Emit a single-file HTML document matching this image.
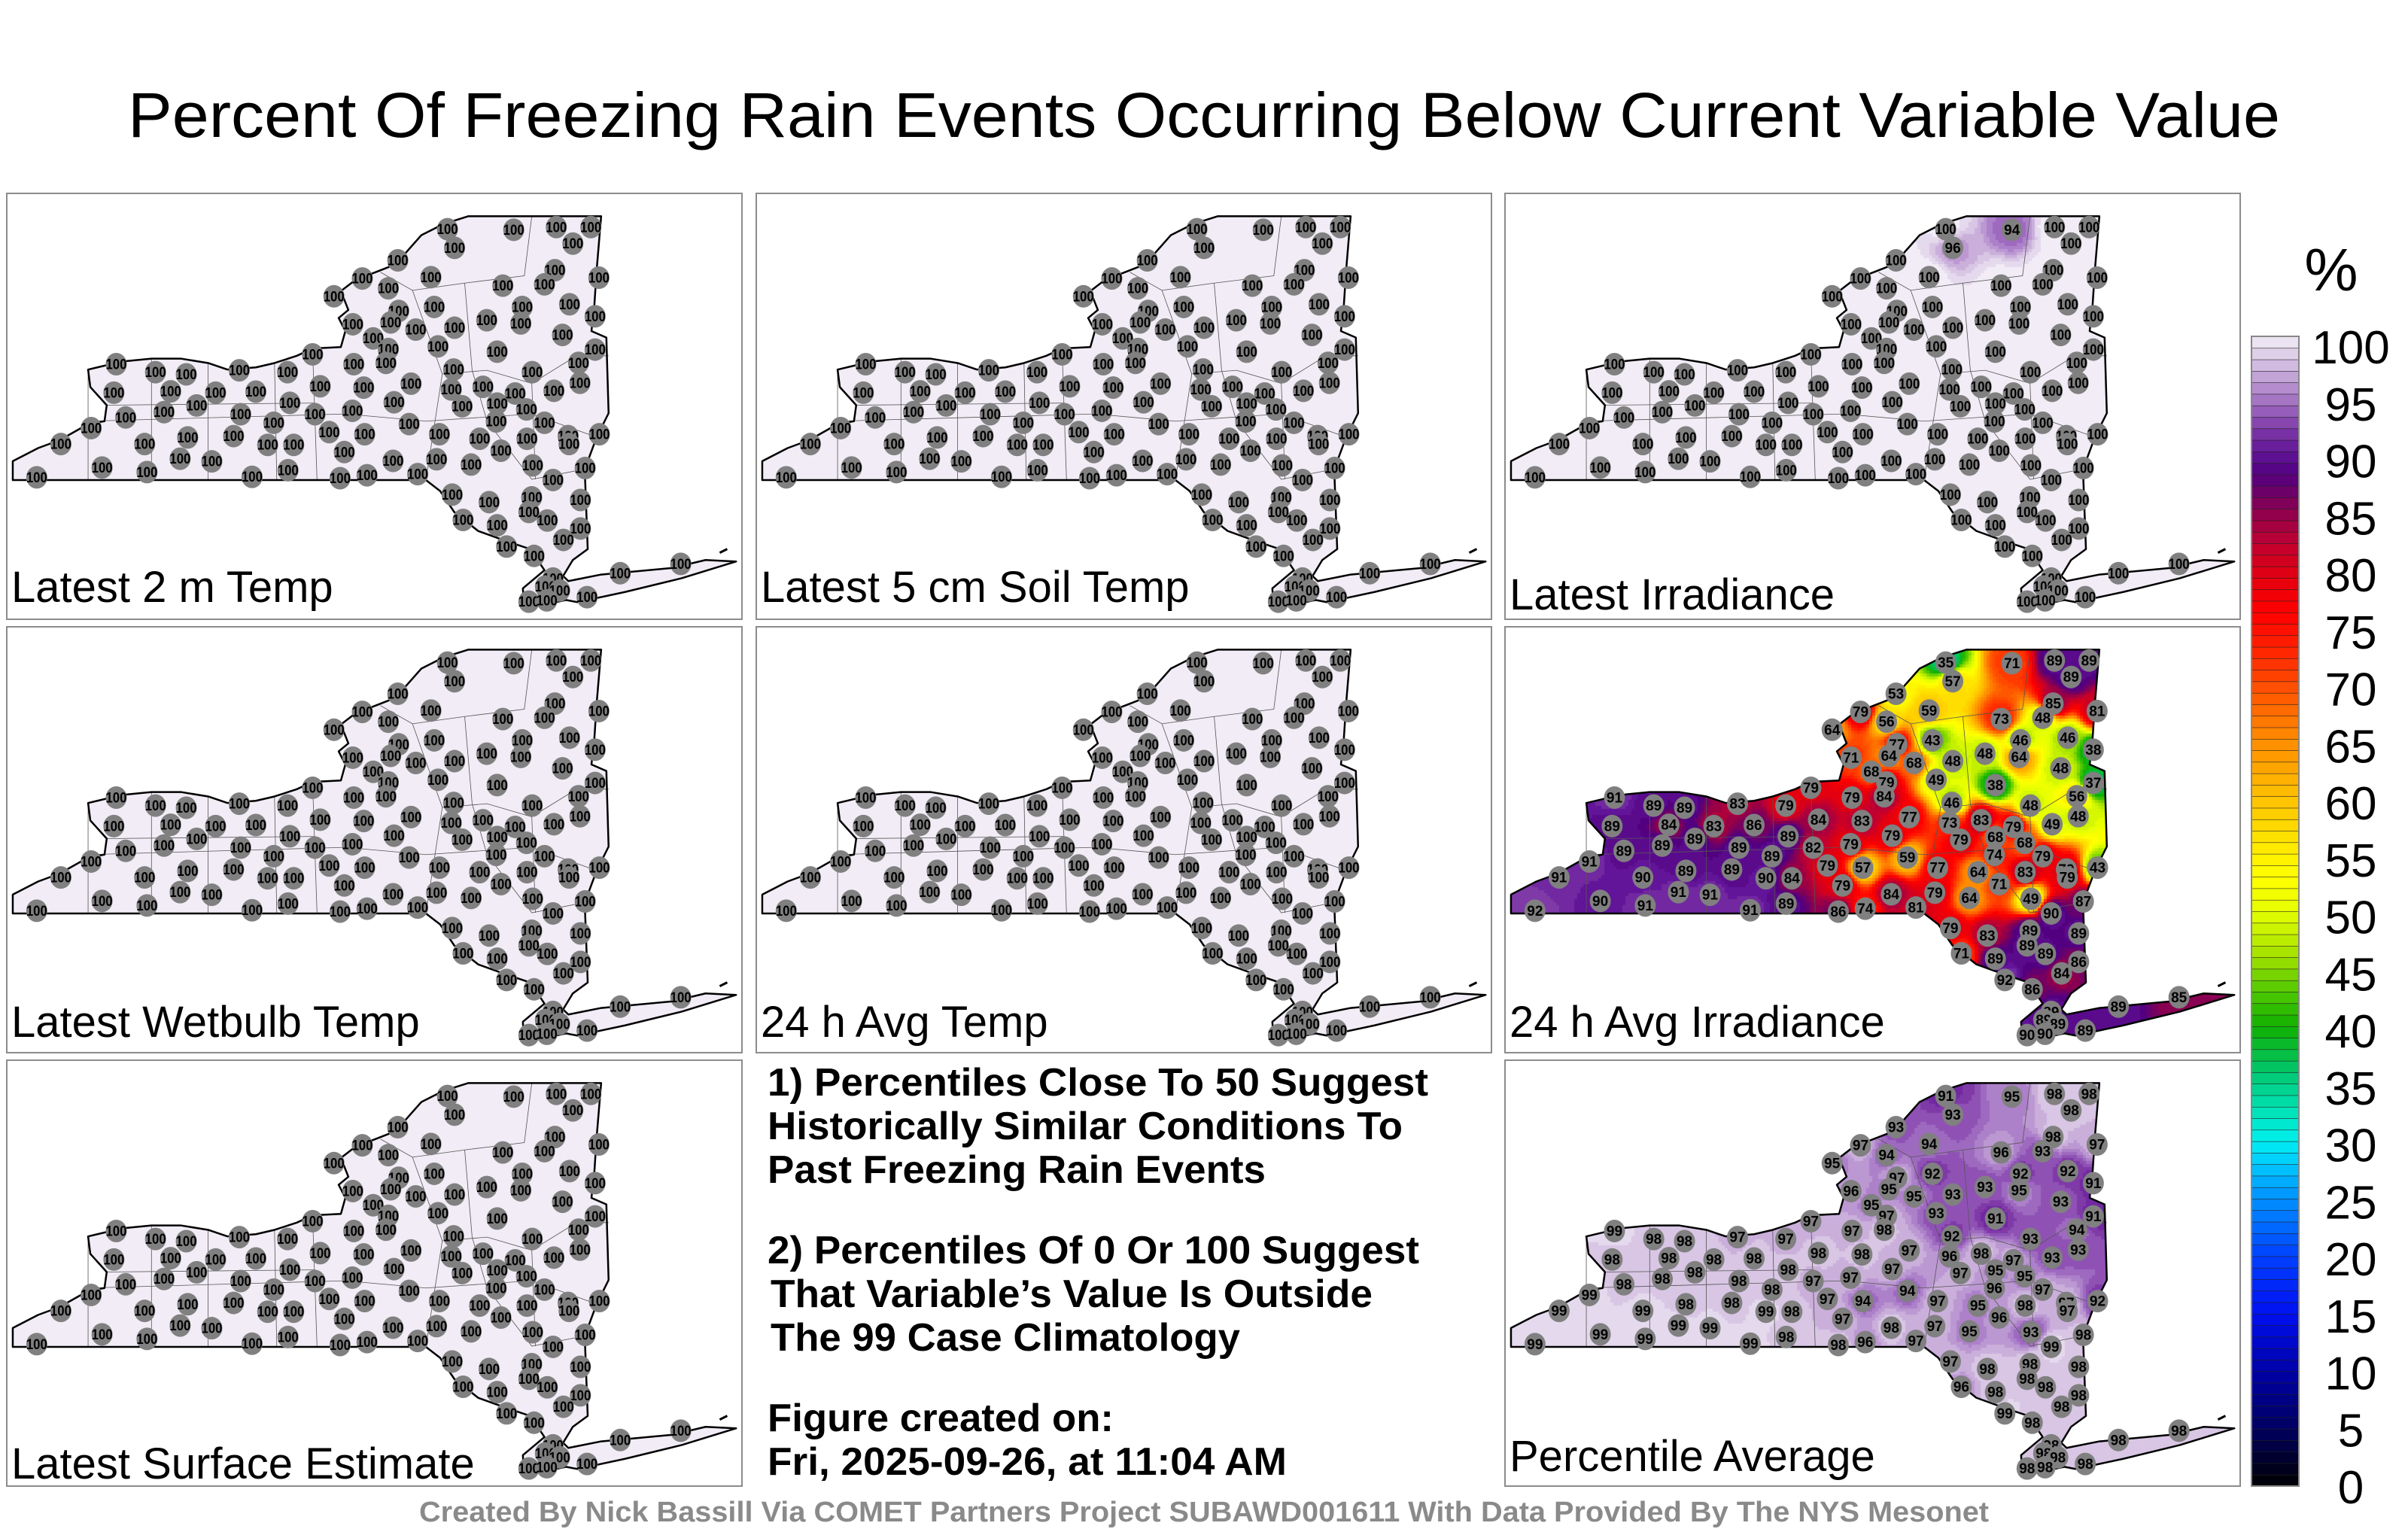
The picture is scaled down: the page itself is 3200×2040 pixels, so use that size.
<!DOCTYPE html>
<html><head><meta charset="utf-8">
<style>
html,body{margin:0;padding:0;background:#fff;}
#root{position:relative;width:3200px;height:2040px;overflow:hidden;background:#fff;font-family:"Liberation Sans",sans-serif;}
canvas{position:absolute;}
svg{position:absolute;left:0;top:0;}
</style></head>
<body>
<div id="root">
<svg id="svg" width="3200" height="2040" viewBox="0 0 3200 2040" xmlns="http://www.w3.org/2000/svg">
<text x="1600" y="182" font-size="84" text-anchor="middle" textLength="2860" lengthAdjust="spacingAndGlyphs" font-family="Liberation Sans, sans-serif">Percent Of Freezing Rain Events Occurring Below Current Variable Value</text>
<g font-family="Liberation Sans, sans-serif" font-weight="bold" font-size="52">
<text x="1020" y="1456" textLength="878" lengthAdjust="spacingAndGlyphs">1) Percentiles Close To 50 Suggest</text>
<text x="1020" y="1514" textLength="844" lengthAdjust="spacingAndGlyphs">Historically Similar Conditions To</text>
<text x="1020" y="1572" textLength="662" lengthAdjust="spacingAndGlyphs">Past Freezing Rain Events</text>
<text x="1020" y="1679" textLength="866" lengthAdjust="spacingAndGlyphs">2) Percentiles Of 0 Or 100 Suggest</text>
<text x="1024" y="1737" textLength="800" lengthAdjust="spacingAndGlyphs">That Variable’s Value Is Outside</text>
<text x="1024" y="1795" textLength="624" lengthAdjust="spacingAndGlyphs">The 99 Case Climatology</text>
<text x="1020" y="1902" textLength="460" lengthAdjust="spacingAndGlyphs">Figure created on:</text>
<text x="1020" y="1960" textLength="690" lengthAdjust="spacingAndGlyphs">Fri, 2025-09-26, at 11:04 AM</text>
</g>
<text x="1600" y="2022" font-size="38" font-weight="bold" fill="#8a8a8a" text-anchor="middle" textLength="2086" lengthAdjust="spacingAndGlyphs" font-family="Liberation Sans, sans-serif">Created By Nick Bassill Via COMET Partners Project SUBAWD001611 With Data Provided By The NYS Mesonet</text>
<text x="3098" y="386" font-size="80" text-anchor="middle" font-family="Liberation Sans, sans-serif">%</text>
<g id="cbar"></g>
<g id="panels"></g>
</svg>
</div>
<script>
// ---------- data ----------
const stationZoomX = [925,1065,1155,1228,1190,940,820,1152,1245,890,1042,1130,745,800,685,897,1083,1183,1237,822,805,725,858,940,1008,1080,1168,768,800,905,1030,1237,640,727,795,1202,938,1104,225,308,373,485,587,656,748,848,933,1000,1068,1150,1205,220,340,435,520,592,395,326,488,645,724,812,956,1030,1092,245,172,558,844,1028,1130,675,750,908,993,1093,1180,1182,1246,108,285,376,473,545,600,707,1038,360,427,810,902,975,1105,1216,195,290,588,57,512,698,755,862,1148,935,1013,1103,1206,1097,1136,958,1030,1206,1170,1050,1108,1418,1290,1148,1132,1162,1220,1097,1135];
const stationZoomY = [98,100,90,90,152,168,215,252,280,278,310,305,283,320,350,390,390,380,425,405,448,455,475,468,440,452,495,508,548,538,558,550,568,605,600,600,625,635,605,635,643,628,635,688,693,678,700,690,715,705,675,712,707,712,708,750,760,785,793,793,780,748,763,753,775,805,845,825,830,820,825,860,868,868,885,885,875,905,868,905,905,880,875,908,908,935,930,960,970,968,962,982,985,995,993,1010,1003,1030,1028,1033,1022,1018,1040,1095,1123,1105,1115,1160,1192,1190,1210,1222,1265,1290,1325,1355,1390,1410,1440,1455,1480,1497,1492];

const uniform100 = [100,100,100,100,100,100,100,100,100,100,100,100,100,100,100,100,100,100,100,100,100,100,100,100,100,100,100,100,100,100,100,100,100,100,100,100,100,100,100,100,100,100,100,100,100,100,100,100,100,100,100,100,100,100,100,100,100,100,100,100,100,100,100,100,100,100,100,100,100,100,100,100,100,100,100,100,100,100,100,100,100,100,100,100,100,100,100,100,100,100,100,100,100,100,100,100,100,100,100,100,100,100,100,100,100,100,100,100,100,100,100,100,100,100,100,100,100,100,100,100,100,100,100];
const latestIrradianceVals = [100,94,100,100,100,96,100,100,100,100,100,100,100,100,100,100,100,100,100,100,100,100,100,100,100,100,100,100,100,100,100,100,100,100,100,100,100,100,100,100,100,100,100,100,100,100,100,100,100,100,100,100,100,100,100,100,100,100,100,100,100,100,100,100,100,100,100,100,100,100,100,100,100,100,100,100,100,100,100,100,100,100,100,100,100,100,100,100,100,100,100,100,100,100,100,100,100,100,100,100,100,100,100,100,100,100,100,100,100,100,100,100,100,100,100,100,100,100,100,100,100,100,100];
const avgIrradianceVals = [35,71,89,89,89,57,53,85,81,59,73,48,79,56,64,43,46,46,38,77,64,71,68,48,48,64,48,68,79,49,38,37,79,79,84,56,46,48,91,89,89,83,79,84,83,77,73,83,79,49,48,89,84,83,86,89,89,89,89,82,79,79,79,68,68,89,91,89,59,74,79,79,57,77,64,83,79,79,43,91,90,89,89,90,84,79,71,91,91,84,79,64,49,87,90,91,89,92,91,86,74,81,90,79,83,89,89,89,89,71,89,86,84,92,86,85,89,89,89,89,89,90,90];
const percentileAvgVals = [91,95,98,98,98,93,93,98,97,94,96,93,97,94,95,92,92,92,91,97,95,96,95,93,93,95,93,95,97,93,91,91,97,97,98,94,92,93,99,98,98,97,97,98,98,97,96,98,97,93,93,98,98,98,98,98,98,98,98,97,97,97,97,95,95,98,99,98,94,96,97,97,94,97,95,98,97,97,92,99,99,98,98,99,98,97,96,99,99,98,97,95,93,98,99,99,98,99,99,98,96,97,99,97,98,98,98,98,98,96,98,98,98,99,98,98,98,98,98,98,98,98,98];
const colorbarTicks = [100,95,90,85,80,75,70,65,60,55,50,45,40,35,30,25,20,15,10,5,0];

// ---------- colormap ----------
const cstops = [[0,'#000000'],[5,'#000060'],[10,'#0000a8'],[15,'#0010f0'],[20,'#0040ff'],[25,'#0090ff'],[28,'#00c8ff'],[30,'#00f0f0'],[33,'#00e0b0'],[36,'#00c870'],[40,'#10b000'],[43,'#50c800'],[46,'#a0e000'],[50,'#e6ff00'],[53,'#ffff00'],[56,'#ffe600'],[60,'#ffc000'],[63,'#ffa000'],[66,'#ff8000'],[70,'#ff4800'],[73,'#ff2000'],[76,'#ff0000'],[79,'#e4000e'],[82,'#c00030'],[84,'#9c0044'],[86,'#760060'],[88,'#520080'],[90,'#621598'],[92,'#7f3aa8'],[94,'#9e6ac0'],[96,'#bc98d2'],[98,'#d8c6e4'],[100,'#f1ecf5']];
function hex(c){return [parseInt(c.substr(1,2),16),parseInt(c.substr(3,2),16),parseInt(c.substr(5,2),16)];}
const cst = cstops.map(s=>[s[0],hex(s[1])]);
function cmap(v){
  v=Math.max(0,Math.min(100,v));
  for(let i=1;i<cst.length;i++){
    if(v<=cst[i][0]){const a=cst[i-1],b=cst[i];const t=(v-a[0])/(b[0]-a[0]||1);
      return [0,1,2].map(k=>Math.round(a[1][k]+(b[1][k]-a[1][k])*t));}
  }
  return cst[cst.length-1][1];
}
const NS='http://www.w3.org/2000/svg';
function mk(tag,attrs,parent){const e=document.createElementNS(NS,tag);for(const k in attrs)e.setAttribute(k,attrs[k]);if(parent)parent.appendChild(e);return e;}

// ---------- colorbar ----------
const cbar=document.getElementById('cbar');
const cbTop=447, cbBot=1975, cbX=2992, cbW=63;
function cbY(v){return cbBot-(v/100)*(cbBot-cbTop);}
for(let v=0;v<100;v++){
  const c=cmap(v+0.5);
  const r=mk('rect',{x:cbX,y:cbY(v+1),width:cbW,height:cbY(v)-cbY(v+1)+0.5,fill:`rgb(${c})`,stroke:'#222','stroke-width':0.6},cbar);
  
  
}
mk('rect',{x:cbX,y:cbTop,width:cbW,height:cbBot-cbTop,fill:'none',stroke:'#888','stroke-width':2},cbar);
colorbarTicks.forEach(v=>{
  const t=mk('text',{x:3124,y:461+(100-v)*15.15+22,'font-size':62,'text-anchor':'middle','font-family':'Liberation Sans, sans-serif'},cbar);
  t.textContent=v;
  
  
});

// ---------- map ----------
const KX=0.991, OX=4;
function tx(x){return x*KX+OX;}
function ty(y){return 381-(381-y)*0.966;}
const outlineRaw=[[4,355],[38,337],[67,326],[105,304],[127,300],[130,278],[108,253],[105,229],[150,218],[190,214],[230,214],[266,220],[292,229],[330,226],[355,220],[385,210],[406,200],[444,198],[450,176],[441,158],[454,147],[444,121],[463,106],[508,88],[527,73],[552,44],[581,29],[615,18],[793,18],[790,55],[787,92],[784,139],[780,176],[800,185],[803,289],[787,322],[771,366],[775,476],[755,491],[742,513],[749,520],[793,511],[888,502],[933,491],[974,493],[901,516],[825,535],[761,549],[746,546],[690,558],[688,530],[717,505],[698,476],[666,465],[628,451],[596,425],[577,396],[558,381],[4,381]];
const outline=outlineRaw.map(p=>[tx(p[0]),ty(p[1])]);
const countyRaw=[[[105,229],[105,381]],[[190,214],[190,381]],[[266,220],[266,381]],[[355,220],[358,381]],[[406,200],[412,381]],[[497,95],[540,120],[580,235],[558,381]],[[540,120],[610,110],[690,100],[700,18]],[[580,235],[640,230],[700,248],[760,210],[803,210]],[[610,110],[620,230],[640,300],[700,380],[771,366]],[[105,300],[450,290],[558,300],[700,290],[787,322]],[[700,248],[705,380]],[[130,278],[410,275]]];
const countyLines=countyRaw.map(l=>l.map(p=>[tx(p[0]),ty(p[1])]));
const sxs=stationZoomX.map(x=>tx(x/1.576)), sys=stationZoomY.map(y=>ty(y/2.73));

const panels=[
 {x:9,y:257,label:'Latest 2 m Temp',ly:543,vals:uniform100,name:'latest-2m-temp'},
 {x:1005,y:257,label:'Latest 5 cm Soil Temp',ly:543,vals:uniform100,name:'latest-5cm-soil-temp'},
 {x:2000,y:257,label:'Latest Irradiance',ly:553,vals:latestIrradianceVals,name:'latest-irradiance'},
 {x:9,y:833,label:'Latest Wetbulb Temp',ly:545,vals:uniform100,name:'latest-wetbulb-temp'},
 {x:1005,y:833,label:'24 h Avg Temp',ly:545,vals:uniform100,name:'24h-avg-temp'},
 {x:2000,y:833,label:'24 h Avg Irradiance',ly:545,vals:avgIrradianceVals,name:'24h-avg-irradiance'},
 {x:9,y:1409,label:'Latest Surface Estimate',ly:556,vals:uniform100,name:'latest-surface-estimate'},
 {x:2000,y:1409,label:'Percentile Average',ly:546,vals:percentileAvgVals,name:'percentile-average'}
];
const W=977,H=566;
const root=document.getElementById('root');
const svgP=document.getElementById('panels');
const ptsStr=outline.map(p=>p.join(',')).join(' ');

panels.forEach(p=>{
  const cv=document.createElement('canvas');
  cv.width=W;cv.height=H;cv.style.left=p.x+'px';cv.style.top=p.y+'px';
  
  
  root.insertBefore(cv,document.getElementById('svg'));
  const ctx=cv.getContext('2d');
  ctx.beginPath();outline.forEach((q,i)=>i?ctx.lineTo(q[0],q[1]):ctx.moveTo(q[0],q[1]));ctx.closePath();ctx.clip();
  const step=4;
  for(let gy=10;gy<H;gy+=step){for(let gx=0;gx<W;gx+=step){
    let sw=0,sv=0,hit=-1;
    for(let i=0;i<p.vals.length;i++){const dx=gx+2-sxs[i],dy=gy+2-sys[i];const d2=dx*dx+dy*dy;
      if(d2<1){hit=i;break;}const w=1/(d2*d2);sw+=w;sv+=w*p.vals[i];}
    const v=hit>=0?p.vals[hit]:sv/sw;
    const c=cmap(Math.floor(v+0.5));
    ctx.fillStyle=`rgb(${c})`;ctx.fillRect(gx,gy,step,step);
  }}
  const g=mk('g',{transform:`translate(${p.x},${p.y})`},svgP);
  
  
  const fr=mk('rect',{x:0,y:0,width:W,height:H,fill:'none',stroke:'#8c8c8c','stroke-width':2},g);
  
  
  countyLines.forEach(l=>{
    const cl=mk('polyline',{points:l.map(q=>q.join(',')).join(' '),fill:'none',stroke:'#555','stroke-width':0.8},g);
    
    
  });
  const ol=mk('polygon',{points:ptsStr,fill:'none',stroke:'#000','stroke-width':2.5,'stroke-linejoin':'round'},g);
  
  
  mk('path',{d:`M${tx(952)} ${ty(481)} l10 -5`,stroke:'#000','stroke-width':3},g);
  p.vals.forEach((v,i)=>{
    const c=mk('ellipse',{cx:sxs[i],cy:sys[i],rx:14,ry:15,fill:'#808080'},g);
    
    
    const t=mk('text',{x:sxs[i],y:sys[i]+6.5,'font-size':19,'font-weight':'bold','text-anchor':'middle','font-family':'Liberation Sans, sans-serif'},g);
    if(String(v).length===3){t.setAttribute('textLength',28);t.setAttribute('lengthAdjust','spacingAndGlyphs');}
    t.textContent=v;
    
    
  });
  const lb=mk('text',{x:6,y:p.ly,'font-size':58,'font-family':'Liberation Sans, sans-serif'},g);
  lb.textContent=p.label;
  
  
});
</script>
</body></html>
